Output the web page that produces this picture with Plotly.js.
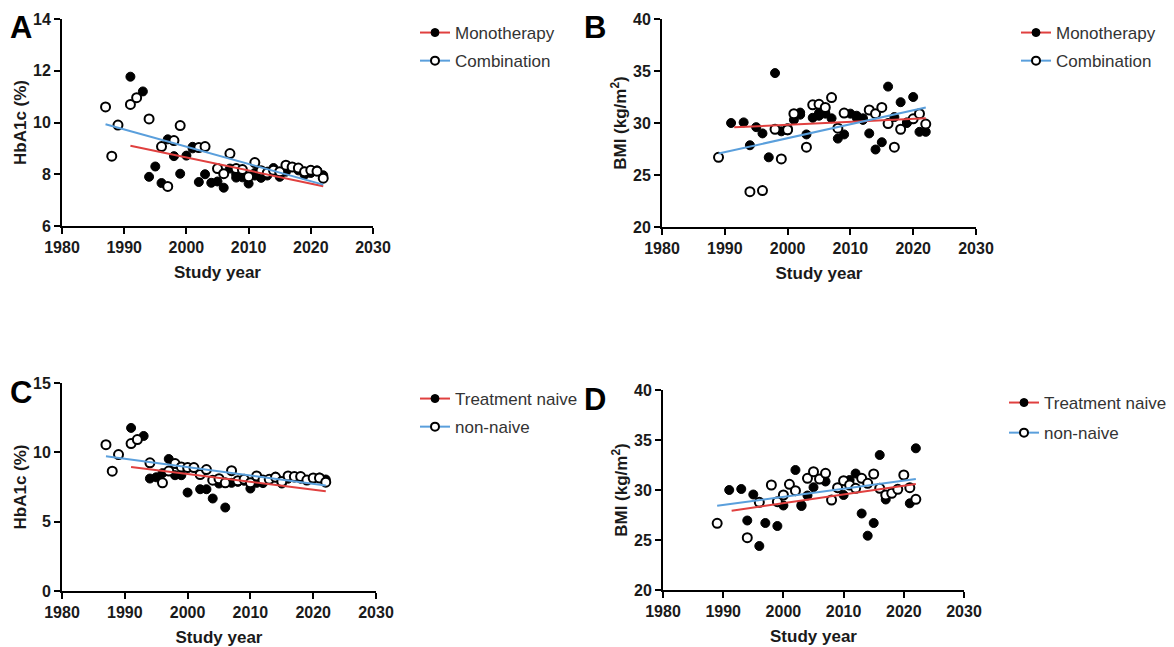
<!DOCTYPE html>
<html><head><meta charset="utf-8">
<script src="https://cdn.plot.ly/plotly-3.0.1.min.js"></script>
<style>html,body{margin:0;padding:0;background:#fff}#c{width:1174px;height:647px}</style>
</head><body><div id="c"></div>
<script>
// Panel A: HbA1c, Monotherapy vs Combination
const aMonoYear = [1991,1993,1994,1995,1996,1997,1998,1999,2000,2001,2002,2003,2004,2005,2006,2007,2008,2009,2010,2011,2012,2013,2014,2015,2016,2017,2018,2019,2020,2021,2022,2001,2008,2011,2013,2015,2019,2020];
const aMonoVal  = [11.77,11.2,7.9,8.3,7.66,9.35,8.7,8.02,8.72,9.06,7.7,8.0,7.67,7.72,7.48,8.22,7.87,7.88,7.64,8.05,7.86,8.1,8.24,7.9,8.1,8.28,8.15,7.98,8.15,8.15,7.96,9.0,8.0,7.95,7.95,8.05,8.1,8.05];
const aCombYear = [1987,1988,1989,1991,1992,1994,1996,1997,1998,1999,2002,2003,2005,2006,2007,2008,2009,2010,2011,2012,2013,2014,2015,2016,2017,2018,2019,2020,2021,2022];
const aCombVal  = [10.6,8.7,9.9,10.7,10.96,10.14,9.07,7.53,9.3,9.88,9.03,9.07,8.22,8.02,8.8,8.22,8.18,7.9,8.45,8.14,8.05,8.15,8.1,8.35,8.28,8.24,8.1,8.15,8.12,7.85];
const aMonoFitX = [1991,2022], aMonoFitY = [9.1,7.54];
const aCombFitX = [1987,2022], aCombFitY = [9.93,7.6];

// Panel B: BMI, Monotherapy vs Combination
const bMonoYear = [1991,1993,1994,1995,1996,1997,1998,1999,2000,2001,2002,2003,2004,2005,2006,2007,2008,2009,2010,2011,2012,2013,2014,2015,2016,2017,2018,2019,2020,2021,2022,2000,2002,2005,2006,2011,2012,2019];
const bMonoVal  = [30.0,30.06,27.86,29.6,29.0,26.7,34.8,29.2,29.5,30.3,31.0,28.9,30.5,30.96,30.9,30.45,28.5,28.9,30.9,30.7,30.45,29.0,27.45,28.15,33.5,30.57,32.0,30.06,32.5,29.15,29.15,29.3,30.8,30.7,31.0,30.5,30.3,30.0];
const bCombYear = [1989,1994,1996,1998,1999,2000,2001,2003,2004,2005,2006,2007,2008,2009,2013,2014,2015,2016,2017,2018,2020,2021,2022];
const bCombVal  = [26.7,23.4,23.5,29.4,26.55,29.35,30.9,27.67,31.75,31.8,31.5,32.45,29.5,30.95,31.25,30.9,31.5,29.94,27.67,29.4,30.4,30.9,29.9];
const bMonoFitX = [1991.5,2022], bMonoFitY = [29.58,30.45];
const bCombFitX = [1989,2022], bCombFitY = [27.06,31.5];

// Panel C: HbA1c, Treatment naive vs non-naive
const cNaiveYear = [1991,1993,1994,1995,1996,1997,1998,1999,2000,2002,2003,2004,2005,2006,2007,2008,2009,2010,2011,2012,2013,2014,2015,2016,2017,2018,2019,2020,2021,2022];
const cNaiveVal  = [11.76,11.18,8.11,8.2,8.5,9.52,8.35,8.35,7.1,7.34,7.34,6.67,7.75,6.02,7.8,7.87,7.95,7.39,7.8,7.78,8.04,8.25,7.75,8.1,8.18,8.1,8.0,8.1,8.18,8.04];
const cNonYear = [1987,1988,1989,1991,1992,1994,1996,1997,1998,1999,2000,2001,2002,2003,2004,2005,2006,2007,2008,2009,2010,2011,2012,2013,2014,2015,2016,2017,2018,2019,2020,2021,2022];
const cNonVal  = [10.55,8.64,9.84,10.63,10.92,9.24,7.8,8.65,9.19,8.95,8.9,8.9,8.4,8.76,7.99,8.1,7.8,8.68,7.95,8.05,7.8,8.3,8.0,8.05,8.2,7.9,8.3,8.25,8.25,8.0,8.15,8.15,7.85];
const cNaiveFitX = [1991,2022], cNaiveFitY = [8.95,7.2];
const cNonFitX = [1987,2022], cNonFitY = [9.72,7.6];

// Panel D: BMI, Treatment naive vs non-naive
const dNaiveYear = [1991,1993,1994,1995,1996,1997,1999,2000,2002,2003,2003,2004,2005,2007,2010,2011,2012,2013,2014,2015,2016,2017,2021,2022];
const dNaiveVal  = [30.0,30.1,26.95,29.55,24.4,26.7,26.4,28.45,32.0,28.5,28.4,29.45,30.27,30.85,29.5,31.0,31.65,27.65,25.43,26.7,33.5,29.05,28.67,34.17];
const dNonYear = [1989,1994,1996,1998,1999,2000,2001,2002,2004,2005,2006,2007,2008,2009,2010,2011,2012,2013,2014,2015,2016,2017,2018,2019,2020,2021,2022];
const dNonVal  = [26.67,25.23,28.77,30.5,28.83,29.5,30.57,29.93,31.17,31.83,31.1,31.67,29.0,30.23,30.93,30.5,30.17,31.17,30.67,31.6,30.17,29.5,29.67,30.07,31.5,30.23,29.07];
const dNaiveFitX = [1991.4,2022], dNaiveFitY = [27.93,30.6];
const dNonFitX = [1989,2022], dNonFitY = [28.43,31.1];

const xTitle = 'Study year';
const yTitles = ['HbA1c (%)','BMI (kg/m<sup>2</sup>)','HbA1c (%)','BMI (kg/m<sup>2</sup>)'];
const legendNames = [['Monotherapy','Combination'],['Monotherapy','Combination'],['Treatment naive','non-naive'],['Treatment naive','non-naive']];
const panelLetters = ['A','B','C','D'];

const RED = '#e0403f', BLUE = '#5a9fdc';
const FONT = 'Liberation Sans, Arial, sans-serif';

const panels = [
  {f:[aMonoYear,aMonoVal],o:[aCombYear,aCombVal],rf:[aMonoFitX,aMonoFitY],bf:[aCombFitX,aCombFitY],yr:[6,14],dt:2,
   xd:[62/1174,373/1174],yd:[1-226/647,1-19/647],lx:415,ly:15,gap:3,px:21,py:28},
  {f:[bMonoYear,bMonoVal],o:[bCombYear,bCombVal],rf:[bMonoFitX,bMonoFitY],bf:[bCombFitX,bCombFitY],yr:[20,40],dt:5,
   xd:[662/1174,976/1174],yd:[1-227/647,1-19/647],lx:1016,ly:15,gap:3,px:595,py:28},
  {f:[cNaiveYear,cNaiveVal],o:[cNonYear,cNonVal],rf:[cNaiveFitX,cNaiveFitY],bf:[cNonFitX,cNonFitY],yr:[0,15],dt:5,
   xd:[62/1174,376/1174],yd:[1-591/647,1-383/647],lx:415,ly:381,gap:3,px:21,py:392},
  {f:[dNaiveYear,dNaiveVal],o:[dNonYear,dNonVal],rf:[dNaiveFitX,dNaiveFitY],bf:[dNonFitX,dNonFitY],yr:[20,40],dt:5,
   xd:[663/1174,964/1174],yd:[1-590/647,1-390/647],lx:1004,ly:385,gap:5,px:595,py:399}
];

const data = [];
const layout = {
  width:1174, height:647, margin:{l:0,r:0,t:0,b:0},
  paper_bgcolor:'#fff', plot_bgcolor:'#fff',
  font:{family:FONT, color:'#1a1a1a'},
  annotations:[]
};

panels.forEach((p,i)=>{
  const n = i+1;
  const xa = 'x'+(n===1?'':n), ya = 'y'+(n===1?'':n);
  const lg = 'legend'+(n===1?'':n);
  data.push({type:'scatter',mode:'markers',x:p.f[0],y:p.f[1],xaxis:xa,yaxis:ya,showlegend:false,
    marker:{symbol:'circle',size:9,color:'#000',line:{color:'#000',width:1}},cliponaxis:false});
  data.push({type:'scatter',mode:'markers',x:p.o[0],y:p.o[1],xaxis:xa,yaxis:ya,showlegend:false,
    marker:{symbol:'circle',size:9,color:'#fff',line:{color:'#000',width:2}},cliponaxis:false});
  data.push({type:'scatter',mode:'lines',x:p.rf[0],y:p.rf[1],xaxis:xa,yaxis:ya,showlegend:false,
    line:{color:RED,width:2}});
  data.push({type:'scatter',mode:'lines',x:p.bf[0],y:p.bf[1],xaxis:xa,yaxis:ya,showlegend:false,
    line:{color:BLUE,width:2}});
  // legend entries
  data.push({type:'scatter',mode:'lines+markers',x:[null],y:[null],xaxis:xa,yaxis:ya,legend:lg,name:legendNames[i][0],
    legendgroup:'g'+n+'a',line:{color:RED,width:2},marker:{symbol:'circle',size:8,color:'#000',line:{color:'#000',width:1}}});
  data.push({type:'scatter',mode:'lines+markers',x:[null],y:[null],xaxis:xa,yaxis:ya,legend:lg,name:legendNames[i][1],
    legendgroup:'g'+n+'b',line:{color:BLUE,width:2},marker:{symbol:'circle',size:8,color:'#fff',line:{color:'#000',width:2}}});

  const axCommon = {showline:true,linecolor:'#000',linewidth:2,ticks:'outside',ticklen:6,tickwidth:2,tickcolor:'#000',
    showgrid:false,zeroline:false,tickfont:{family:FONT,size:16,color:'#1a1a1a',weight:'bold'}};
  layout['xaxis'+(n===1?'':n)] = Object.assign({},axCommon,{domain:p.xd,anchor:ya,range:[1980,2030],dtick:10,tick0:1980,
    title:{text:xTitle,font:{family:FONT,size:17,color:'#1a1a1a',weight:'bold'},standoff:11}});
  layout['yaxis'+(n===1?'':n)] = Object.assign({},axCommon,{domain:p.yd,anchor:xa,range:p.yr,dtick:p.dt,tick0:p.yr[0],
    title:{text:yTitles[i],font:{family:FONT,size:17,color:'#1a1a1a',weight:'bold'},standoff:2}});
  layout[lg] = {x:p.lx/1174,y:1-p.ly/647,xanchor:'left',yanchor:'top',bgcolor:'rgba(0,0,0,0)',
    font:{family:FONT,size:17,color:'#333'},itemwidth:30,tracegroupgap:p.gap};
  layout.annotations.push({text:'<b>'+panelLetters[i]+'</b>',xref:'paper',yref:'paper',x:p.px/1174,y:1-p.py/647,
    xanchor:'center',yanchor:'middle',showarrow:false,font:{family:FONT,size:31,color:'#000'}});
});

Plotly.newPlot('c',data,layout,{staticPlot:true});
</script></body></html>
